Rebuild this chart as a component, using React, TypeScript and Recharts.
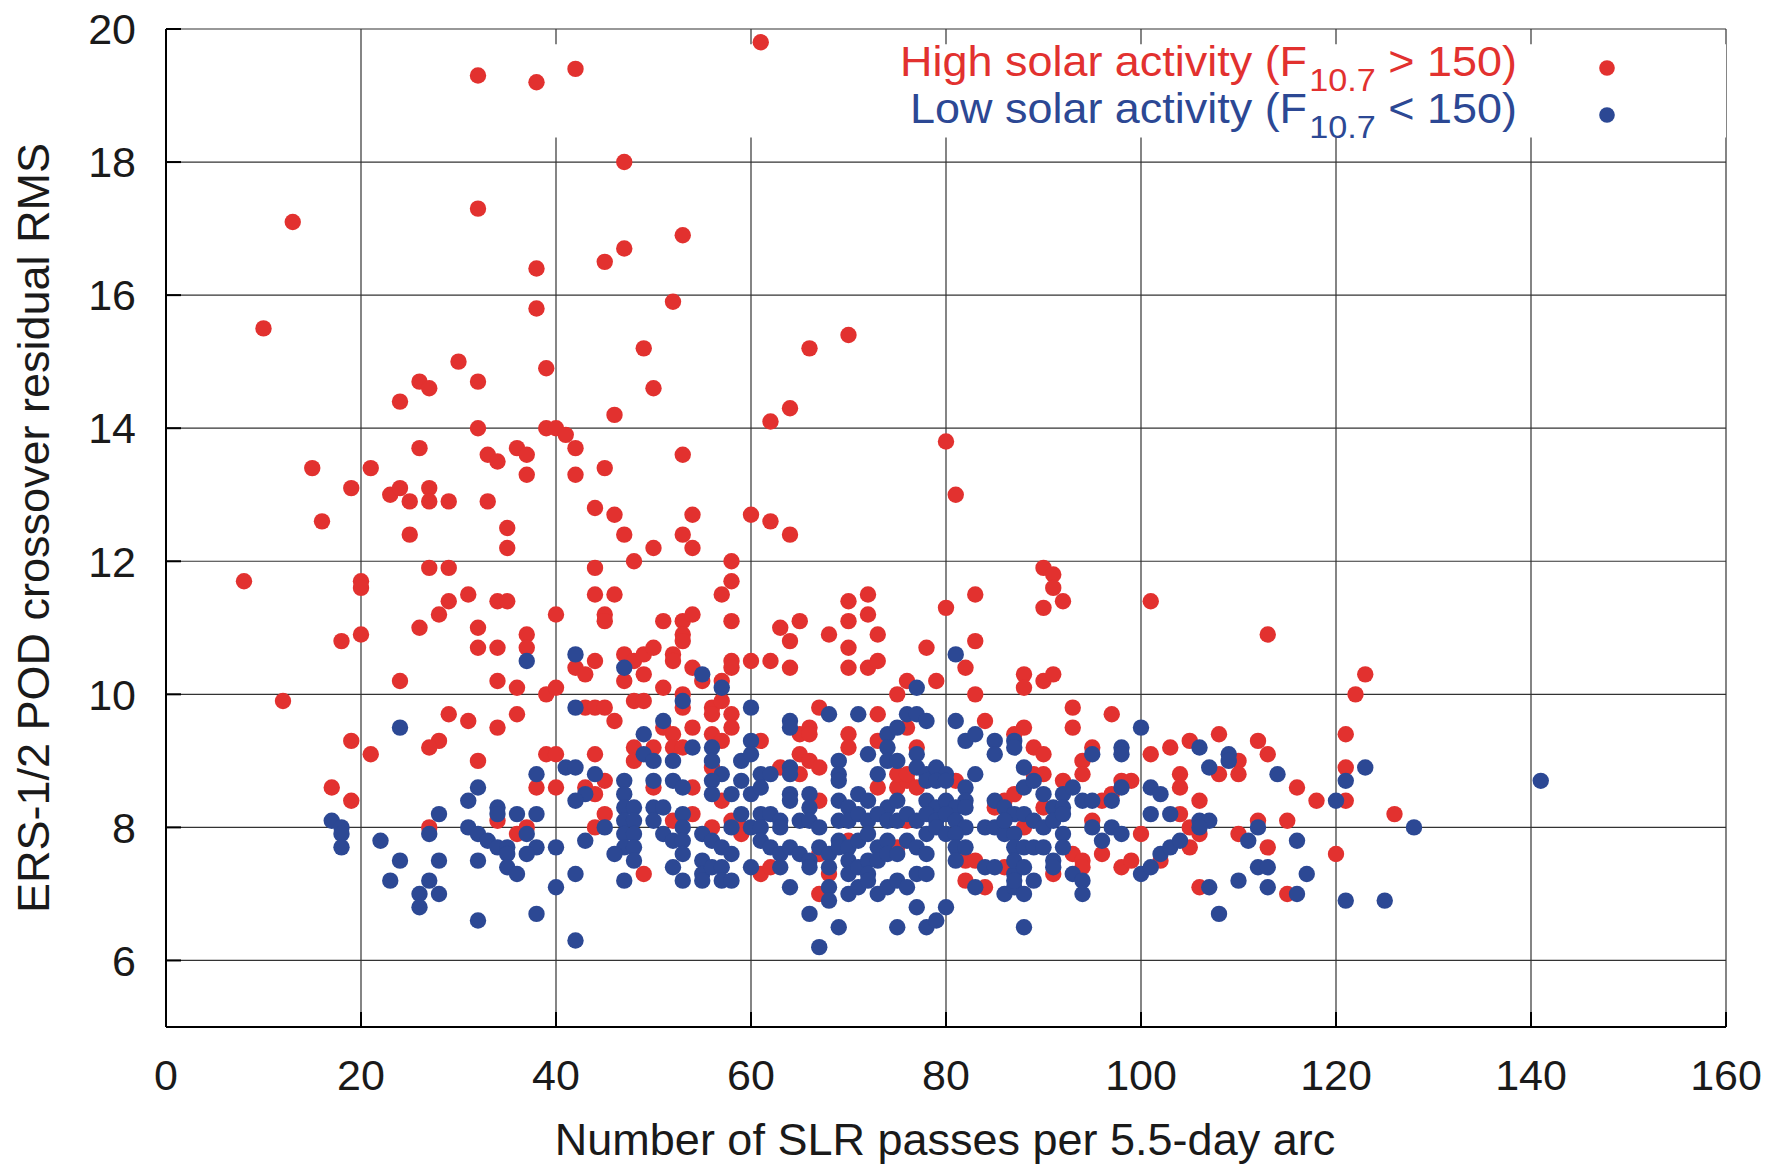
import { CartesianGrid, ReferenceArea, Scatter, ScatterChart, XAxis, YAxis } from 'recharts'

// [passes, rms] pairs, one array per solar-activity class
const HIGH_SOLAR: [number, number][] = [
  [61, 19.8], [32, 19.3], [38, 19.2], [42, 19.4], [47, 18.0], [13, 17.1], [32, 17.3], [53, 16.9],
  [47, 16.7], [45, 16.5], [38, 16.4], [38, 15.8], [52, 15.9], [10, 15.5], [49, 15.2], [30, 15.0],
  [26, 14.7], [27, 14.6], [32, 14.7], [39, 14.9], [50, 14.6], [24, 14.4], [46, 14.2], [62, 14.1],
  [32, 14.0], [39, 14.0], [40, 14.0], [41, 13.9], [26, 13.7], [42, 13.7], [33, 13.6], [34, 13.5],
  [36, 13.7], [37, 13.6], [37, 13.3], [42, 13.3], [45, 13.4], [53, 13.6], [15, 13.4], [21, 13.4],
  [19, 13.1], [23, 13.0], [24, 13.1], [27, 13.1], [25, 12.9], [27, 12.9], [29, 12.9], [33, 12.9],
  [16, 12.6], [25, 12.4], [35, 12.5], [35, 12.2], [44, 12.8], [46, 12.7], [47, 12.4], [50, 12.2],
  [48, 12.0], [53, 12.4], [54, 12.7], [54, 12.2], [60, 12.7], [62, 12.6], [58, 12.0], [58, 11.7],
  [57, 11.5], [58, 11.1], [8, 11.7], [20, 11.7], [20, 11.6], [27, 11.9], [29, 11.9], [44, 11.9],
  [44, 11.5], [46, 11.5], [31, 11.5], [29, 11.4], [34, 11.4], [35, 11.4], [28, 11.2], [26, 11.0],
  [32, 11.0], [40, 11.2], [45, 11.2], [45, 11.1], [51, 11.1], [53, 11.1], [54, 11.2], [53, 10.9],
  [37, 10.9], [20, 10.9], [18, 10.8],
  [70, 15.4], [66, 15.2], [64, 14.3], [80, 13.8], [81, 13.0], [64, 12.4], [90, 11.9], [91, 11.8],
  [91, 11.6], [92, 11.4], [90, 11.3], [83, 11.5], [80, 11.3], [101, 11.4], [70, 11.4], [72, 11.5],
  [70, 11.1], [72, 11.2], [63, 11.0], [65, 11.1], [113, 10.9], [64, 10.8], [68, 10.9], [73, 10.9],
  [83, 10.8],
  [24, 10.2], [12, 9.9], [29, 9.7], [31, 9.6], [19, 9.3], [28, 9.3], [27, 9.2], [21, 9.1],
  [17, 8.6], [19, 8.4], [27, 8.0],
  [32, 10.7], [34, 10.7], [37, 10.7], [53, 10.8], [34, 10.2], [36, 10.1], [39, 10.0], [40, 10.1],
  [34, 9.5], [36, 9.7], [32, 9.0], [39, 9.1], [40, 9.1], [38, 8.6], [40, 8.6], [42, 10.4],
  [43, 10.3], [44, 10.5], [47, 10.6], [47, 10.2], [48, 10.5], [49, 10.6], [50, 10.7], [49, 10.3],
  [51, 10.1], [48, 9.9], [49, 9.9], [52, 10.6], [52, 10.5], [54, 10.4], [55, 10.2], [57, 10.2],
  [58, 10.5], [58, 10.4], [53, 10.0], [53, 9.8], [43, 9.8], [44, 9.8], [45, 9.8], [46, 9.6],
  [51, 9.5], [54, 9.5], [56, 9.8], [56, 9.7], [57, 9.9], [58, 9.7], [58, 9.5], [56, 9.4],
  [57, 9.3], [48, 9.2], [48, 9.0], [50, 9.2], [52, 9.4], [52, 9.2], [53, 9.2], [56, 8.9],
  [57, 8.4], [44, 9.1], [45, 8.7], [43, 8.6], [44, 8.5], [50, 8.6], [54, 8.6], [34, 8.1],
  [36, 7.9], [37, 8.0], [44, 8.0], [45, 8.2], [49, 7.3], [52, 8.1], [54, 8.2], [56, 8.0],
  [58, 8.1],
  [70, 10.7], [78, 10.7], [60, 10.5], [62, 10.5], [64, 10.4], [70, 10.4], [72, 10.4], [73, 10.5],
  [82, 10.4], [76, 10.2], [75, 10.0], [79, 10.2], [83, 10.0], [67, 9.8], [73, 9.7], [84, 9.6],
  [65, 9.4], [66, 9.5], [66, 9.4], [70, 9.4], [70, 9.2], [73, 9.3], [76, 9.5], [77, 9.2],
  [61, 9.3], [65, 9.1], [66, 9.0], [63, 8.9], [65, 8.8], [67, 8.9], [75, 8.6], [76, 8.7],
  [77, 8.6], [75, 8.8], [76, 8.8], [81, 8.7], [73, 8.6], [67, 8.4], [86, 8.4], [85, 8.3],
  [59, 8.0], [59, 7.9], [76, 8.1], [61, 7.3], [62, 7.4], [67, 7.6], [68, 7.3], [70, 7.8],
  [75, 7.7], [82, 7.5], [83, 7.5], [82, 7.2], [84, 7.1], [67, 7.0],
  [88, 10.3], [88, 10.1], [90, 10.2], [91, 10.3], [93, 9.8], [93, 9.5], [97, 9.7], [87, 9.4],
  [88, 9.5], [89, 9.2], [90, 9.1], [89, 8.8], [90, 8.8], [94, 9.0], [94, 8.8], [95, 9.2],
  [101, 9.1], [103, 9.2], [105, 9.3], [108, 9.4], [110, 9.0], [110, 8.8], [112, 9.3], [113, 9.1],
  [104, 8.8], [104, 8.6], [108, 8.8], [116, 8.6], [87, 8.5], [92, 8.7], [96, 8.4], [97, 8.5],
  [98, 8.7], [99, 8.7], [106, 8.4], [90, 8.3], [88, 8.0], [95, 8.1], [96, 7.6], [100, 7.9],
  [104, 8.2], [105, 8.0], [106, 7.9], [110, 7.9], [112, 8.1], [115, 8.1], [86, 7.4], [91, 7.3],
  [93, 7.6], [94, 7.5], [94, 7.4], [98, 7.4], [99, 7.5], [102, 7.5], [105, 7.7], [106, 7.1],
  [113, 7.7], [115, 7.0],
  [123, 10.3], [122, 10.0], [121, 9.4], [121, 8.9], [118, 8.4], [121, 8.4], [126, 8.2], [120, 7.6],
]

const LOW_SOLAR: [number, number][] = [
  [24, 9.5], [31, 8.4], [28, 8.2], [17, 8.1], [18, 8.0], [18, 7.9], [18, 7.7], [27, 7.9],
  [31, 8.0], [22, 7.8], [24, 7.5], [28, 7.5], [23, 7.2], [27, 7.2], [26, 7.0], [28, 7.0],
  [26, 6.8], [32, 6.6],
  [37, 10.5], [42, 10.6], [47, 10.4], [55, 10.3], [57, 10.1], [53, 9.9], [42, 9.8], [51, 9.6],
  [49, 9.4], [54, 9.2], [49, 9.1], [50, 9.0], [52, 9.0], [56, 9.2], [56, 9.0], [57, 8.8],
  [56, 8.7], [56, 8.5], [58, 8.5], [59, 9.0], [59, 8.7], [44, 8.8], [41, 8.9], [42, 8.9],
  [38, 8.8], [43, 8.5], [42, 8.4], [47, 8.7], [50, 8.7], [52, 8.7], [53, 8.6], [32, 8.6],
  [34, 8.3], [34, 8.2], [36, 8.2], [38, 8.2], [37, 7.9], [32, 7.9], [33, 7.8], [34, 7.7],
  [35, 7.7], [35, 7.6], [35, 7.4], [36, 7.3], [38, 7.7], [37, 7.6], [40, 7.7], [32, 7.5],
  [40, 7.1], [42, 7.3], [38, 6.7], [42, 6.3], [43, 7.8], [45, 8.0], [47, 8.5], [47, 8.3],
  [47, 8.1], [47, 7.9], [47, 7.7], [48, 8.3], [48, 8.1], [48, 7.9], [48, 7.7], [48, 7.5],
  [46, 7.6], [47, 7.2], [50, 8.3], [50, 8.1], [51, 8.3], [51, 7.9], [52, 7.8], [53, 8.2],
  [53, 8.0], [53, 7.8], [53, 7.6], [52, 7.4], [53, 7.2], [55, 7.9], [56, 7.8], [57, 7.7],
  [58, 7.6], [55, 7.5], [55, 7.3], [56, 7.4], [57, 7.4], [55, 7.2], [57, 7.2], [58, 7.2],
  [58, 8.0], [59, 8.2],
  [81, 10.6], [77, 10.1], [60, 9.8], [68, 9.7], [71, 9.7], [76, 9.7], [77, 9.7], [78, 9.6],
  [81, 9.6], [64, 9.6], [64, 9.5], [74, 9.4], [75, 9.5], [74, 9.2], [82, 9.3], [83, 9.4],
  [85, 9.3], [85, 9.1], [87, 9.3], [60, 9.3], [60, 9.1], [61, 8.8], [62, 8.8], [64, 8.9],
  [64, 8.8], [69, 9.0], [69, 8.8], [69, 8.7], [72, 9.1], [73, 8.8], [74, 9.0], [75, 9.0],
  [77, 9.1], [77, 8.9], [78, 8.8], [79, 8.9], [80, 8.8], [78, 8.7], [79, 8.7], [80, 8.7],
  [83, 8.8], [82, 8.6], [82, 8.4], [60, 8.5], [61, 8.6], [64, 8.5], [64, 8.4], [66, 8.5],
  [66, 8.3], [69, 8.4], [70, 8.3], [71, 8.5], [72, 8.4], [74, 8.3], [75, 8.4], [78, 8.4],
  [79, 8.3], [80, 8.4], [81, 8.3], [82, 8.3], [85, 8.4], [86, 8.3], [87, 8.2], [61, 8.2],
  [62, 8.2], [63, 8.1], [63, 8.0], [60, 8.0], [61, 8.0], [65, 8.1], [66, 8.1], [67, 8.0],
  [69, 8.1], [70, 8.1], [71, 8.2], [72, 8.1], [73, 8.2], [74, 8.1], [75, 8.1], [76, 8.2],
  [77, 8.1], [78, 8.2], [79, 8.1], [80, 8.2], [81, 8.1], [82, 8.0], [84, 8.0], [85, 8.0],
  [86, 7.9], [87, 7.9], [86, 8.1], [61, 7.8], [62, 7.7], [63, 7.6], [64, 7.7], [65, 7.6],
  [66, 7.5], [66, 7.4], [60, 7.4], [63, 7.4], [64, 7.1], [67, 7.7], [68, 7.6], [68, 7.4],
  [69, 7.8], [69, 7.7], [70, 7.7], [70, 7.5], [70, 7.3], [71, 7.8], [71, 7.4], [72, 7.9],
  [72, 7.5], [72, 7.3], [73, 7.7], [73, 7.5], [74, 7.8], [74, 7.6], [75, 7.6], [76, 7.8],
  [77, 7.7], [78, 7.6], [78, 7.9], [79, 8.0], [80, 7.9], [81, 7.9], [81, 7.7], [82, 7.7],
  [81, 7.5], [84, 7.4], [85, 7.4], [83, 7.1], [86, 7.0], [87, 7.1], [87, 7.3], [68, 7.1],
  [68, 6.9], [70, 7.0], [71, 7.1], [72, 7.2], [73, 7.0], [74, 7.1], [75, 7.2], [76, 7.1],
  [77, 7.3], [77, 6.8], [78, 7.3], [66, 6.7], [69, 6.5], [67, 6.2], [75, 6.5], [78, 6.5],
  [79, 6.6], [80, 6.8],
  [100, 9.5], [87, 9.2], [88, 8.9], [95, 9.1], [98, 9.2], [98, 9.1], [106, 9.2], [109, 9.1],
  [109, 9.0], [107, 8.9], [114, 8.8], [88, 8.6], [89, 8.7], [90, 8.5], [92, 8.5], [93, 8.6],
  [94, 8.4], [95, 8.4], [97, 8.4], [98, 8.6], [101, 8.6], [102, 8.5], [88, 8.2], [89, 8.1],
  [90, 8.0], [91, 8.3], [91, 8.1], [92, 8.3], [92, 8.2], [92, 7.9], [92, 7.7], [95, 8.0],
  [97, 8.0], [98, 7.9], [96, 7.8], [101, 8.2], [103, 8.2], [106, 8.1], [107, 8.1], [106, 8.0],
  [112, 8.0], [111, 7.8], [116, 7.8], [87, 7.7], [88, 7.7], [89, 7.7], [90, 7.7], [87, 7.5],
  [88, 7.4], [91, 7.5], [91, 7.4], [93, 7.3], [94, 7.2], [94, 7.0], [87, 7.2], [89, 7.2],
  [88, 7.0], [88, 6.5], [100, 7.3], [101, 7.4], [102, 7.6], [103, 7.7], [104, 7.8], [107, 7.1],
  [108, 6.7], [110, 7.2], [112, 7.4], [113, 7.4], [113, 7.1], [116, 7.0],
  [123, 8.9], [121, 8.7], [141, 8.7], [120, 8.4], [128, 8.0], [117, 7.3], [121, 6.9], [125, 6.9],
]

const X_TICKS = [0, 20, 40, 60, 80, 100, 120, 140, 160]
const Y_TICKS = [6, 8, 10, 12, 14, 16, 18, 20]

const X_TITLE = 'Number of SLR passes per 5.5-day arc'
const Y_TITLE = 'ERS-1/2 POD crossover residual RMS'

const RED = '#e2312f'
const BLUE = '#2c4894'

const KEY_ROWS = [
  { label: 'High solar activity (F', sign: '>', color: RED },
  { label: 'Low solar activity (F', sign: '<', color: BLUE },
]

const FONT = '"Liberation Sans", Arial, Helvetica, sans-serif'
const INK = '#1a1a1a'

const toPoints = (pairs: [number, number][]) => pairs.map(([x, y]) => ({ x, y }))

const dot = (fill: string) => (props: any) => (
  <circle cx={props.cx} cy={props.cy} r={8.2} fill={fill} />
)

// text width in px, used to butt the key's pieces against each other
let ctx: CanvasRenderingContext2D | null = null
const textWidth = (s: string, size: number) => {
  if (!ctx) ctx = document.createElement('canvas').getContext('2d')
  if (!ctx) return s.length * size * 0.55
  ctx.font = `${size}px "Liberation Sans", Arial, sans-serif`
  return ctx.measureText(s).width
}

const tickStyle = { fontSize: 43, fill: INK, fontFamily: FONT }
const frame = { stroke: '#000', strokeWidth: 2 }

const xTitle = () => (
  <text x={945} y={1155} textAnchor="middle" fontSize={45} fontFamily={FONT} fill={INK}>
    {X_TITLE}
  </text>
)

const yTitle = () => (
  <text
    x={49}
    y={528}
    transform="rotate(-90 49 528)"
    textAnchor="middle"
    fontSize={45}
    fontFamily={FONT}
    fill={INK}
  >
    {Y_TITLE}
  </text>
)

function Key() {
  const right = 1517
  const big = 42
  const small = 32
  return (
    <svg
      width={1769}
      height={1166}
      style={{ position: 'absolute', left: 0, top: 0, pointerEvents: 'none' }}
    >
      {KEY_ROWS.map((row, i) => {
        const y = 76 + i * 47
        const tail = `${row.sign} 150)`
        const tailStart = right - textWidth(tail, big)
        const subEnd = tailStart - textWidth(' ', big)
        const subStart = subEnd - textWidth('10.7', small)
        return (
          <g key={row.label} fontFamily={FONT} fill={row.color}>
            {/* the key is set slightly wide, anchored on its right edge */}
            <g transform={`translate(${right} 0) scale(1.07 1) translate(${-right} 0)`}>
              <text x={subStart - 2} y={y} textAnchor="end" fontSize={big}>{row.label}</text>
              <text x={subStart} y={y + 15} fontSize={small}>10.7</text>
              <text x={tailStart} y={y} fontSize={big}>{tail}</text>
            </g>
            <circle cx={1607} cy={y - 8} r={7.8} />
          </g>
        )
      })}
    </svg>
  )
}

export default function App() {
  return (
    <div style={{ position: 'absolute', left: 0, top: 0, width: 1769, height: 1166, background: '#fff' }}>
      <ScatterChart width={1769} height={1166} margin={{ top: 29, right: 43, bottom: 0, left: 0 }}>
        <CartesianGrid stroke="#333" strokeWidth={1.2} fill="none" />
        <XAxis
          dataKey="x"
          type="number"
          domain={[0, 160]}
          ticks={X_TICKS}
          interval={0}
          height={139}
          tickSize={-15}
          tickMargin={47}
          tick={tickStyle}
          axisLine={frame}
          tickLine={frame}
          label={xTitle}
        />
        <XAxis
          xAxisId="top"
          orientation="top"
          dataKey="x"
          type="number"
          domain={[0, 160]}
          ticks={X_TICKS}
          interval={0}
          height={0}
          tickSize={-15}
          tick={false}
          axisLine={frame}
          tickLine={frame}
        />
        <YAxis
          dataKey="y"
          type="number"
          domain={[5, 20]}
          ticks={Y_TICKS}
          interval={0}
          width={166}
          tickSize={-15}
          tickMargin={45}
          tick={tickStyle}
          axisLine={frame}
          tickLine={frame}
          label={yTitle}
        />
        <YAxis
          yAxisId="right"
          orientation="right"
          dataKey="y"
          type="number"
          domain={[5, 20]}
          ticks={Y_TICKS}
          interval={0}
          width={0}
          tickSize={-15}
          tick={false}
          axisLine={frame}
          tickLine={frame}
        />
        {/* key background: blanks the grid behind the legend text */}
        <ReferenceArea
          x1={30}
          x2={160}
          y1={18.37}
          y2={19.77}
          fill="#fff"
          fillOpacity={1}
          stroke="none"
          zIndex={-50}
        />
        <Scatter
          name="High solar activity"
          data={toPoints(HIGH_SOLAR)}
          fill={RED}
          shape={dot(RED)}
          isAnimationActive={false}
        />
        <Scatter
          name="Low solar activity"
          data={toPoints(LOW_SOLAR)}
          fill={BLUE}
          shape={dot(BLUE)}
          isAnimationActive={false}
        />
      </ScatterChart>
      <Key />
    </div>
  )
}
